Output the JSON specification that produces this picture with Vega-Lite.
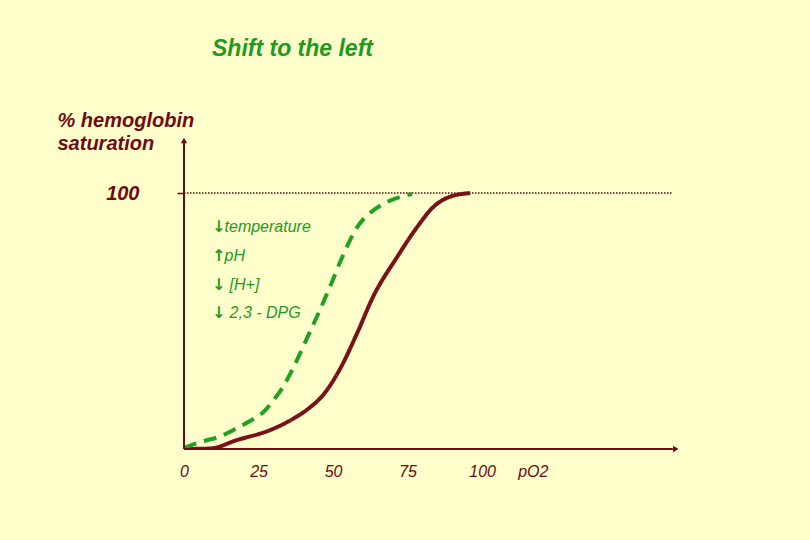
{
  "$schema": "https://vega.github.io/schema/vega-lite/v6.json",
  "width": 496,
  "height": 312,
  "autosize": {"type": "none"},
  "padding": {"left": 184, "top": 137, "right": 130, "bottom": 91},
  "background": "#FFFFCC",
  "config": {"view": {"stroke": null}, "font": "Liberation Sans"},
  "title": {
    "text": "Shift to the left",
    "anchor": "start",
    "frame": "group",
    "dx": 28,
    "offset": 49,
    "fontSize": 23,
    "fontStyle": "italic",
    "fontWeight": "bold",
    "font": "Liberation Sans",
    "color": "#1F991F"
  },
  "datasets": {
    "curves": [
      {"series": "normal", "x": 0, "y": 0},
      {"series": "normal", "x": 8.7, "y": 0.2},
      {"series": "normal", "x": 17.8, "y": 3.5},
      {"series": "normal", "x": 28.9, "y": 7.4},
      {"series": "normal", "x": 36.6, "y": 11.8},
      {"series": "normal", "x": 42.3, "y": 16.3},
      {"series": "normal", "x": 46.6, "y": 21.0},
      {"series": "normal", "x": 52.3, "y": 31.2},
      {"series": "normal", "x": 58.1, "y": 45.3},
      {"series": "normal", "x": 63.4, "y": 59.4},
      {"series": "normal", "x": 71.5, "y": 75.0},
      {"series": "normal", "x": 78.2, "y": 86.7},
      {"series": "normal", "x": 83.6, "y": 94.5},
      {"series": "normal", "x": 89.3, "y": 98.6},
      {"series": "normal", "x": 96.0, "y": 100},
      {"series": "left", "x": 0, "y": 0.4},
      {"series": "left", "x": 5.4, "y": 2.7},
      {"series": "left", "x": 12.1, "y": 4.9},
      {"series": "left", "x": 17.8, "y": 8.2},
      {"series": "left", "x": 23.8, "y": 12.1},
      {"series": "left", "x": 26.5, "y": 14.3},
      {"series": "left", "x": 29.9, "y": 18.9},
      {"series": "left", "x": 33.2, "y": 24.2},
      {"series": "left", "x": 36.6, "y": 31.6},
      {"series": "left", "x": 39.9, "y": 39.8},
      {"series": "left", "x": 43.0, "y": 47.7},
      {"series": "left", "x": 45.6, "y": 54.3},
      {"series": "left", "x": 49.0, "y": 63.5},
      {"series": "left", "x": 53.4, "y": 75.8},
      {"series": "left", "x": 58.1, "y": 86.7},
      {"series": "left", "x": 62.4, "y": 92.2},
      {"series": "left", "x": 68.1, "y": 96.5},
      {"series": "left", "x": 73.5, "y": 98.8},
      {"series": "left", "x": 76.5, "y": 99.6}
    ],
    "notes": [
      {"ax": 9.4, "lx": 13.6, "y": 86.7, "arrow": "↓", "label": "temperature"},
      {"ax": 9.4, "lx": 13.6, "y": 75.4, "arrow": "↑", "label": "pH"},
      {"ax": 9.4, "lx": 15.3, "y": 64.1, "arrow": "↓", "label": "[H+]"},
      {"ax": 9.4, "lx": 15.3, "y": 53.1, "arrow": "↓", "label": "2,3 - DPG"}
    ],
    "one": [{}]
  },
  "layer": [
    {
      "data": {"name": "one"},
      "mark": {"type": "rule", "color": "#5A0A10", "strokeWidth": 1.5, "strokeDash": [1.5, 1.5]},
      "encoding": {
        "x": {"datum": 0, "type": "quantitative"},
        "x2": {"datum": 163.8},
        "y": {"datum": 100, "type": "quantitative"}
      }
    },
    {
      "mark": {"type": "line", "strokeWidth": 4, "interpolate": "monotone", "clip": true},
      "data": {"name": "curves"},
      "encoding": {
        "x": {
          "field": "x", "type": "quantitative",
          "scale": {"domain": [0, 166.4], "nice": false},
          "axis": {
            "values": [0, 25, 50, 75, 100, 117],
            "labelExpr": "datum.value == 117 ? 'pO2' : datum.label",
            "domain": false, "ticks": false, "grid": false,
            "labelPadding": 14, "labelFontSize": 16, "labelFontStyle": "italic",
            "labelColor": "#6E0B12", "labelFont": "Liberation Sans",
            "labelFlush": false, "labelOverlap": false,
            "title": null
          }
        },
        "y": {
          "field": "y", "type": "quantitative",
          "scale": {"domain": [0, 121.9], "nice": false},
          "axis": {
            "values": [100],
            "domain": false, "grid": false,
            "tickSize": 7, "tickWidth": 1.5, "tickColor": "#6E0B12",
            "labelPadding": 38, "labelFontSize": 20, "labelFontStyle": "italic",
            "labelFontWeight": "bold", "labelColor": "#6E0B12", "labelFont": "Liberation Sans",
            "title": ["% hemoglobin", "saturation"],
            "titleAngle": 0, "titleAlign": "left", "titleBaseline": "alphabetic",
            "titleX": -127, "titleY": -11, "titleLineHeight": 23,
            "titleFontSize": 20, "titleFontStyle": "italic", "titleFontWeight": "bold",
            "titleColor": "#6E0B12", "titleFont": "Liberation Sans"
          }
        },
        "color": {
          "field": "series", "type": "nominal",
          "scale": {"domain": ["normal", "left"], "range": ["#7A1018", "#22A022"]},
          "legend": null
        },
        "strokeDash": {
          "field": "series", "type": "nominal",
          "scale": {"domain": ["normal", "left"], "range": [[1, 0], [13, 8]]},
          "legend": null
        },
        "order": {"field": "x", "type": "quantitative"}
      }
    },
    {
      "data": {"name": "one"},
      "mark": {"type": "rule", "color": "#6E0B12", "strokeWidth": 2},
      "encoding": {
        "x": {"datum": 0, "type": "quantitative"},
        "y": {"datum": 0, "type": "quantitative"},
        "y2": {"datum": 120}
      }
    },
    {
      "data": {"name": "one"},
      "mark": {"type": "rule", "color": "#6E0B12", "strokeWidth": 2},
      "encoding": {
        "x": {"datum": 0, "type": "quantitative"},
        "x2": {"datum": 164},
        "y": {"datum": 0, "type": "quantitative"}
      }
    },
    {
      "data": {"name": "one"},
      "mark": {"type": "point", "shape": "triangle-up", "filled": true, "color": "#6E0B12", "size": 40, "opacity": 1},
      "encoding": {
        "x": {"datum": 0, "type": "quantitative"},
        "y": {"datum": 120.5, "type": "quantitative"}
      }
    },
    {
      "data": {"name": "one"},
      "mark": {"type": "point", "shape": "triangle-right", "filled": true, "color": "#6E0B12", "size": 40, "opacity": 1},
      "encoding": {
        "x": {"datum": 165, "type": "quantitative"},
        "y": {"datum": 0, "type": "quantitative"}
      }
    },
    {
      "data": {"name": "notes"},
      "mark": {"type": "text", "align": "left", "baseline": "middle", "fontSize": 16, "fontWeight": "bold", "font": "DejaVu Sans", "color": "#1F991F"},
      "encoding": {
        "x": {"field": "ax", "type": "quantitative"},
        "y": {"field": "y", "type": "quantitative"},
        "text": {"field": "arrow"}
      }
    },
    {
      "data": {"name": "notes"},
      "mark": {"type": "text", "align": "left", "baseline": "middle", "fontSize": 16, "fontStyle": "italic", "font": "Liberation Sans", "color": "#1F991F"},
      "encoding": {
        "x": {"field": "lx", "type": "quantitative"},
        "y": {"field": "y", "type": "quantitative"},
        "text": {"field": "label"}
      }
    }
  ]
}
